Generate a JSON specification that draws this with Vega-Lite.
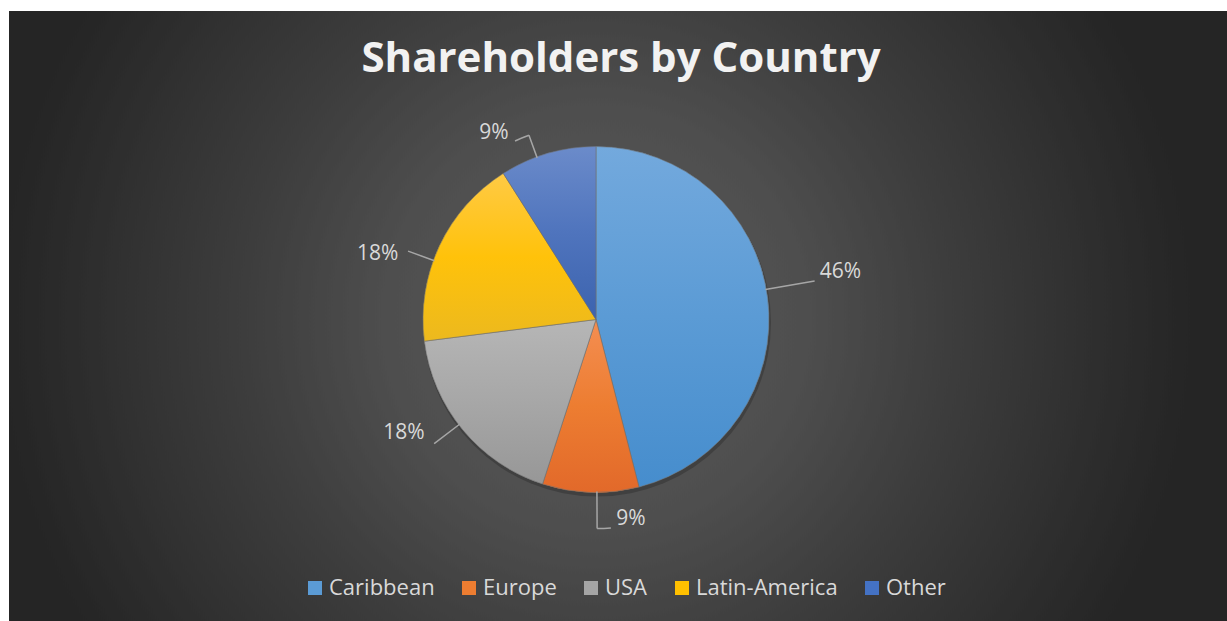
{
  "$schema": "https://vega.github.io/schema/vega-lite/v6.json",
  "width": 1218,
  "height": 610,
  "autosize": "none",
  "padding": {"left": 9, "top": 11, "right": 0, "bottom": 0},
  "background": "#ffffff",
  "view": {"fill": "#252525", "stroke": null},
  "title": {
    "text": "Shareholders by Country",
    "font": "Open Sans",
    "fontSize": 42,
    "fontWeight": "bold",
    "color": "#f2f2f2",
    "anchor": "middle",
    "frame": "group",
    "offset": -70,
    "dx": 3
  },
  "data": {
    "values": [
      {"category": "Caribbean", "share": 0.46},
      {"category": "Europe", "share": 0.09},
      {"category": "USA", "share": 0.18},
      {"category": "Latin-America", "share": 0.18},
      {"category": "Other", "share": 0.09}
    ]
  },
  "transform": [{"stack": "share", "groupby": [], "as": ["v0", "v1"]}],
  "layer": [
    {
      "data": {"values": [{"k": 1}]},
      "mark": {
        "type": "arc", "outerRadius": 700, "xOffset": -22, "yOffset": 3.5, "clip": true,
        "fill": {"gradient": "radial", "x1": 0.5, "y1": 0.5, "r1": 0, "x2": 0.5, "y2": 0.5, "r2": 0.5,
          "stops": [
            {"offset": 0, "color": "#5a5a5a"},
            {"offset": 0.3, "color": "#4e4e4e"},
            {"offset": 0.5, "color": "#3d3d3d"},
            {"offset": 0.85, "color": "#252525"},
            {"offset": 1, "color": "#252525"}
          ]}
      }
    },
    {
      "data": {"values": [{"k": 1}]},
      "mark": {"type": "arc", "outerRadius": 174, "xOffset": -21, "yOffset": 6.5, "fill": "#000000", "opacity": 0.2}
    },
    {
      "mark": {"type": "arc", "outerRadius": 173, "xOffset": -22, "yOffset": 3.5},
      "encoding": {
        "theta": {"field": "v0", "type": "quantitative", "scale": {"domain": [0, 1]}},
        "theta2": {"field": "v1"},
        "color": {
          "field": "category", "type": "nominal",
          "scale": {
            "domain": ["Caribbean", "Europe", "USA", "Latin-America", "Other"],
            "range": ["#5b9bd5", "#ed7d31", "#a5a5a5", "#ffc000", "#4472c4"]
          },
          "legend": {
            "orient": "none", "legendX": 295, "legendY": 566, "direction": "horizontal", "title": null
          }
        }
      }
    },
    {
      "transform": [{"filter": "datum.category === 'Caribbean'"}],
      "mark": {"type": "arc", "outerRadius": 173, "xOffset": -22, "yOffset": 3.5, "stroke": "#6e6e6e", "strokeWidth": 0.6,
        "fill": {"gradient": "linear", "x1": 0, "y1": 0, "x2": 0, "y2": 1, "stops": [{"offset": 0, "color": "#73a9dd"}, {"offset": 0.5, "color": "#5b9bd5"}, {"offset": 1, "color": "#468dcd"}]}},
      "encoding": {"theta": {"field": "v0", "type": "quantitative"}, "theta2": {"field": "v1"}}
    },
    {
      "transform": [{"filter": "datum.category === 'Europe'"}],
      "mark": {"type": "arc", "outerRadius": 173, "xOffset": -22, "yOffset": 3.5, "stroke": "#6e6e6e", "strokeWidth": 0.6,
        "fill": {"gradient": "linear", "x1": 0, "y1": 0, "x2": 0, "y2": 1, "stops": [{"offset": 0, "color": "#f48e52"}, {"offset": 0.5, "color": "#ed7d31"}, {"offset": 1, "color": "#e2692a"}]}},
      "encoding": {"theta": {"field": "v0", "type": "quantitative"}, "theta2": {"field": "v1"}}
    },
    {
      "transform": [{"filter": "datum.category === 'USA'"}],
      "mark": {"type": "arc", "outerRadius": 173, "xOffset": -22, "yOffset": 3.5, "stroke": "#6e6e6e", "strokeWidth": 0.6,
        "fill": {"gradient": "linear", "x1": 0, "y1": 0, "x2": 0, "y2": 1, "stops": [{"offset": 0, "color": "#b6b6b6"}, {"offset": 0.5, "color": "#a7a7a7"}, {"offset": 1, "color": "#979797"}]}},
      "encoding": {"theta": {"field": "v0", "type": "quantitative"}, "theta2": {"field": "v1"}}
    },
    {
      "transform": [{"filter": "datum.category === 'Latin-America'"}],
      "mark": {"type": "arc", "outerRadius": 173, "xOffset": -22, "yOffset": 3.5, "stroke": "#6e6e6e", "strokeWidth": 0.6,
        "fill": {"gradient": "linear", "x1": 0, "y1": 0, "x2": 0, "y2": 1, "stops": [{"offset": 0, "color": "#ffca45"}, {"offset": 0.5, "color": "#ffc20a"}, {"offset": 1, "color": "#ecb91e"}]}},
      "encoding": {"theta": {"field": "v0", "type": "quantitative"}, "theta2": {"field": "v1"}}
    },
    {
      "transform": [{"filter": "datum.category === 'Other'"}],
      "mark": {"type": "arc", "outerRadius": 173, "xOffset": -22, "yOffset": 3.5, "stroke": "#6e6e6e", "strokeWidth": 0.6,
        "fill": {"gradient": "linear", "x1": 0, "y1": 0, "x2": 0, "y2": 1, "stops": [{"offset": 0, "color": "#6b8bca"}, {"offset": 0.5, "color": "#4f74bd"}, {"offset": 1, "color": "#3c63ae"}]}},
      "encoding": {"theta": {"field": "v0", "type": "quantitative"}, "theta2": {"field": "v1"}}
    },
    {
      "transform": [{"filter": "datum.category === 'Caribbean'"}],
      "mark": {"type": "arc", "filled": false, "color": "#a6a6a6", "strokeWidth": 1.5, "outerRadius": 222, "innerRadius": 172, "thetaOffset": 1.396, "theta2Offset": 1.396, "xOffset": -22, "yOffset": 3.5},
      "encoding": {"theta": {"field": "v0", "type": "quantitative"}, "theta2": {"field": "v0"}}
    },
    {
      "transform": [{"filter": "datum.category === 'Europe'"}],
      "mark": {"type": "arc", "filled": false, "color": "#a6a6a6", "strokeWidth": 1.5, "outerRadius": 209, "innerRadius": 172, "thetaOffset": 0.246, "theta2Offset": 0.246, "xOffset": -22, "yOffset": 3.5},
      "encoding": {"theta": {"field": "v0", "type": "quantitative"}, "theta2": {"field": "v0"}}
    },
    {
      "transform": [{"filter": "datum.category === 'Europe'"}],
      "mark": {"type": "arc", "filled": false, "color": "#a6a6a6", "strokeWidth": 1.5, "outerRadius": 209, "innerRadius": 209, "thetaOffset": 0.180, "theta2Offset": 0.246, "xOffset": -22, "yOffset": 3.5},
      "encoding": {"theta": {"field": "v0", "type": "quantitative"}, "theta2": {"field": "v0"}}
    },
    {
      "transform": [{"filter": "datum.category === 'USA'"}],
      "mark": {"type": "arc", "filled": false, "color": "#a6a6a6", "strokeWidth": 1.5, "outerRadius": 204, "innerRadius": 172, "thetaOffset": 0.602, "theta2Offset": 0.602, "xOffset": -22, "yOffset": 3.5},
      "encoding": {"theta": {"field": "v0", "type": "quantitative"}, "theta2": {"field": "v0"}}
    },
    {
      "transform": [{"filter": "datum.category === 'Latin-America'"}],
      "mark": {"type": "arc", "filled": false, "color": "#a6a6a6", "strokeWidth": 1.5, "outerRadius": 200, "innerRadius": 172, "thetaOffset": 0.4747, "theta2Offset": 0.4747, "xOffset": -22, "yOffset": 3.5},
      "encoding": {"theta": {"field": "v0", "type": "quantitative"}, "theta2": {"field": "v0"}}
    },
    {
      "transform": [{"filter": "datum.category === 'Other'"}],
      "mark": {"type": "arc", "filled": false, "color": "#a6a6a6", "strokeWidth": 1.5, "outerRadius": 196, "innerRadius": 172, "thetaOffset": 0.2164, "theta2Offset": 0.2164, "xOffset": -22, "yOffset": 3.5},
      "encoding": {"theta": {"field": "v0", "type": "quantitative"}, "theta2": {"field": "v0"}}
    },
    {
      "transform": [{"filter": "datum.category === 'Other'"}],
      "mark": {"type": "arc", "filled": false, "color": "#a6a6a6", "strokeWidth": 1.5, "outerRadius": 196, "innerRadius": 196, "thetaOffset": 0.1396, "theta2Offset": 0.2164, "xOffset": -22, "yOffset": 3.5},
      "encoding": {"theta": {"field": "v0", "type": "quantitative"}, "theta2": {"field": "v0"}}
    },
    {
      "transform": [{"filter": "datum.category === 'Caribbean'"}],
      "mark": {"type": "text", "radius": 249, "thetaOffset": 1.377, "xOffset": -22, "yOffset": 3.5, "font": "Open Sans", "fontSize": 21, "color": "#d9d9d9", "align": "center", "baseline": "middle"},
      "encoding": {"theta": {"field": "v0", "type": "quantitative"}, "text": {"field": "share", "type": "quantitative", "format": ".0%"}}
    },
    {
      "transform": [{"filter": "datum.category === 'Europe'"}],
      "mark": {"type": "text", "radius": 203, "thetaOffset": 0.0785, "xOffset": -22, "yOffset": 3.5, "font": "Open Sans", "fontSize": 21, "color": "#d9d9d9", "align": "center", "baseline": "middle"},
      "encoding": {"theta": {"field": "v0", "type": "quantitative"}, "text": {"field": "share", "type": "quantitative", "format": ".0%"}}
    },
    {
      "transform": [{"filter": "datum.category === 'USA'"}],
      "mark": {"type": "text", "radius": 223, "thetaOffset": 0.724, "xOffset": -22, "yOffset": 3.5, "font": "Open Sans", "fontSize": 21, "color": "#d9d9d9", "align": "center", "baseline": "middle"},
      "encoding": {"theta": {"field": "v0", "type": "quantitative"}, "text": {"field": "share", "type": "quantitative", "format": ".0%"}}
    },
    {
      "transform": [{"filter": "datum.category === 'Latin-America'"}],
      "mark": {"type": "text", "radius": 228, "thetaOffset": 0.419, "xOffset": -22, "yOffset": 3.5, "font": "Open Sans", "fontSize": 21, "color": "#d9d9d9", "align": "center", "baseline": "middle"},
      "encoding": {"theta": {"field": "v0", "type": "quantitative"}, "text": {"field": "share", "type": "quantitative", "format": ".0%"}}
    },
    {
      "transform": [{"filter": "datum.category === 'Other'"}],
      "mark": {"type": "text", "radius": 213, "thetaOffset": 0.066, "xOffset": -22, "yOffset": 3.5, "font": "Open Sans", "fontSize": 21, "color": "#d9d9d9", "align": "center", "baseline": "middle"},
      "encoding": {"theta": {"field": "v0", "type": "quantitative"}, "text": {"field": "share", "type": "quantitative", "format": ".0%"}}
    }
  ],
  "config": {
    "font": "Open Sans",
    "legend": {
      "labelFont": "Open Sans",
      "labelFontSize": 22,
      "labelColor": "#d9d9d9",
      "symbolType": "square",
      "symbolSize": 196,
      "symbolStrokeWidth": 0,
      "labelOffset": 3,
      "columnPadding": 23,
      "padding": 0,
      "labelLimit": 400
    }
  }
}
